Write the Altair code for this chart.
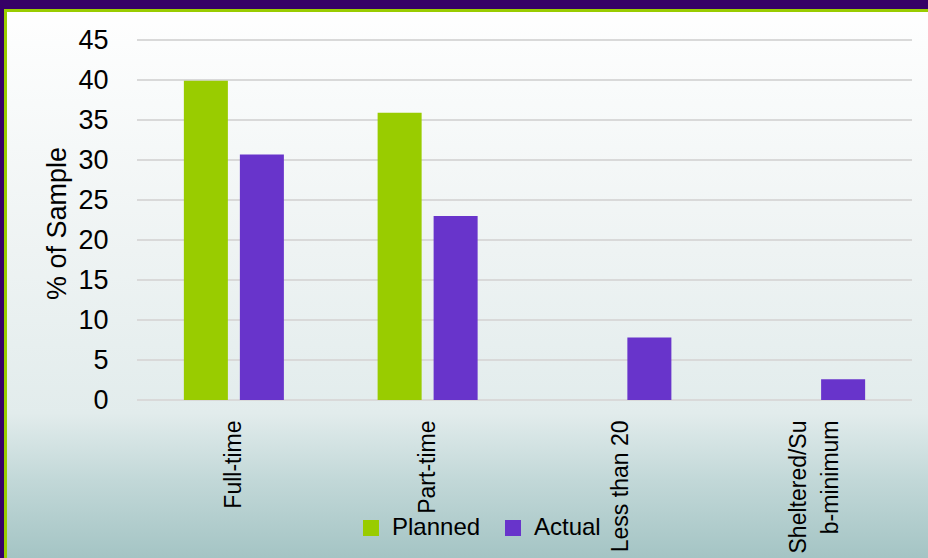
import altair as alt
import pandas as pd

categories = ["Full-time", "Part-time", "Less than 20", "Sheltered/Sub-minimum"]
planned = [39.9, 35.9, None, None]
actual = [30.7, 23.0, 7.8, 2.6]
series = ["Planned", "Actual"]
colors = ["#99cc00", "#6834cb"]
y_ticks = [0, 5, 10, 15, 20, 25, 30, 35, 40, 45]

rows = []
for c, p, a in zip(categories, planned, actual):
    if p is not None:
        rows.append({"cat": c, "series": "Planned", "value": p})
    if a is not None:
        rows.append({"cat": c, "series": "Actual", "value": a})
df = pd.DataFrame(rows)
grid_df = pd.DataFrame({"value": y_ticks})
one = pd.DataFrame({"a": [0]})

FONT = "Liberation Sans"
W, H = 775, 360
PL, PT, PR, PB = 137, 40, 16, 158

gradient = alt.LinearGradient(
    gradient="linear",
    stops=[
        alt.GradientStop(color="#ffffff", offset=0),
        alt.GradientStop(color="#eef3f3", offset=0.45),
        alt.GradientStop(color="#e2ecec", offset=0.74),
        alt.GradientStop(color="#c2d8d8", offset=0.86),
        alt.GradientStop(color="#a4c4c4", offset=1),
    ],
    x1=0, x2=0, y1=0, y2=1,
)

y_axis = alt.Axis(
    title="% of Sample",
    titleFont=FONT,
    titleFontSize=27,
    titleFontWeight="normal",
    titleColor="#000000",
    titleX=-66,
    titleY=183,
    titleAngle=-90,
    titleBaseline="bottom",
    values=y_ticks,
    labelOverlap=False,
    labelFont=FONT,
    labelFontSize=27,
    labelColor="#000000",
    labelPadding=29,
    domain=False,
    ticks=False,
    grid=False,
    zindex=1,
)
y_scale = alt.Scale(domain=[0, 45], nice=False)

bg = alt.Chart(one).mark_rect(color=gradient).encode(
    x=alt.value(-PL), x2=alt.value(W + PR), y=alt.value(-PT), y2=alt.value(H + PB)
)
top_band = alt.Chart(one).mark_rect(color="#360066").encode(
    x=alt.value(-PL), x2=alt.value(W + PR), y=alt.value(-PT), y2=alt.value(-PT + 9)
)
left_band = alt.Chart(one).mark_rect(color="#360066").encode(
    x=alt.value(-PL), x2=alt.value(-PL + 4), y=alt.value(-PT), y2=alt.value(H + PB)
)
top_green = alt.Chart(one).mark_rect(color="#99cc00").encode(
    x=alt.value(-PL + 4), x2=alt.value(W + PR), y=alt.value(-PT + 9), y2=alt.value(-PT + 12)
)
left_green = alt.Chart(one).mark_rect(color="#99cc00").encode(
    x=alt.value(-PL + 4), x2=alt.value(-PL + 7), y=alt.value(-PT + 9), y2=alt.value(H + PB)
)

grid = alt.Chart(grid_df).mark_rule(color="#d9d9d9", strokeWidth=2).encode(
    y=alt.Y("value:Q", scale=y_scale, axis=y_axis), x=alt.value(0), x2=alt.value(W)
)

bars = alt.Chart(df).mark_bar().encode(
    x=alt.X(
        "cat:N",
        sort=categories,
        scale=alt.Scale(paddingInner=0, paddingOuter=0),
        axis=alt.Axis(
            title=None,
            labelAngle=-90,
            labelAlign="right",
            labelBaseline="middle",
            labelFont=FONT,
            labelFontSize=23,
            labelColor="#000000",
            labelPadding=20,
            labelLimit=300,
            labelLineHeight=32,
            labelOffset={
                "condition": {"test": "datum.value == 'Sheltered/Sub-minimum'", "value": -16},
                "value": 0,
            },
            labelExpr="datum.value == 'Sheltered/Sub-minimum' ? ['Sheltered/Su', 'b-minimum'] : datum.value",
            domain=False,
            ticks=False,
            zindex=1,
        ),
    ),
    xOffset=alt.XOffset(
        "series:N",
        sort=series,
        scale=alt.Scale(paddingInner=0.214, paddingOuter=0.837),
    ),
    y=alt.Y("value:Q", scale=y_scale, axis=y_axis),
    color=alt.Color(
        "series:N",
        sort=series,
        scale=alt.Scale(domain=series, range=colors),
        legend=alt.Legend(
            title=None,
            orient="none",
            direction="horizontal",
            legendX=222,
            legendY=476,
            symbolType="square",
            symbolSize=256,
            symbolStrokeWidth=0,
            symbolOpacity=1,
            labelFont=FONT,
            labelFontSize=24,
            labelColor="#000000",
            labelOffset=9,
            columnPadding=20,
            labelLimit=200,
        ),
    ),
)

chart = alt.layer(bg, top_band, left_band, top_green, left_green, grid, bars).properties(
    width=W,
    height=H,
    padding={"left": PL, "top": PT, "right": PR, "bottom": PB},
    autosize=alt.AutoSizeParams(type="none"),
    background="#ffffff",
).configure_view(stroke=None)

chart.save("out.html", embed_options={"renderer": "svg", "actions": False})
